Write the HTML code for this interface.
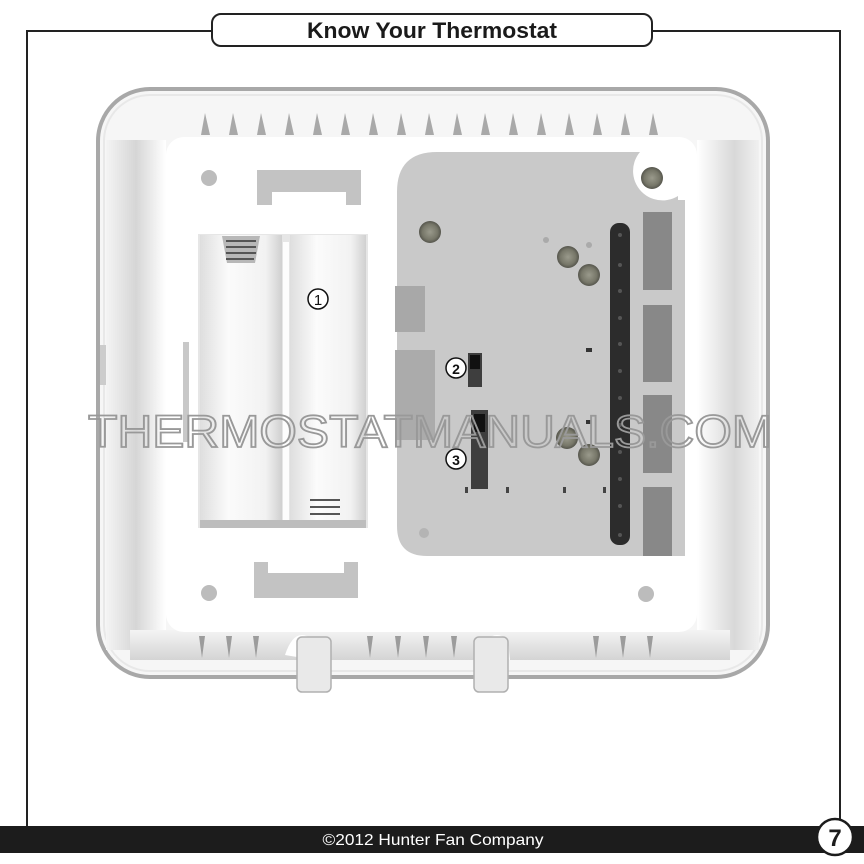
<!DOCTYPE html>
<html><head><meta charset="utf-8"><style>
html,body{margin:0;padding:0;background:#fff;}
svg{display:block;}
</style></head><body>
<svg width="864" height="864" viewBox="0 0 864 864" xmlns="http://www.w3.org/2000/svg">
<defs>
<linearGradient id="shl" x1="0" x2="1"><stop offset="0" stop-color="#f4f4f4"/><stop offset="0.5" stop-color="#d6d6d6"/><stop offset="1" stop-color="#fff"/></linearGradient>
<linearGradient id="shr" x1="0" x2="1"><stop offset="0" stop-color="#fff"/><stop offset="0.6" stop-color="#d8d8d8"/><stop offset="1" stop-color="#f0f0f0"/></linearGradient>
<linearGradient id="shb" x1="0" y1="0" x2="0" y2="1"><stop offset="0" stop-color="#f4f4f4"/><stop offset="1" stop-color="#d4d4d4"/></linearGradient>
<linearGradient id="cyl" x1="0" x2="1"><stop offset="0" stop-color="#dedede"/><stop offset="0.35" stop-color="#fbfbfb"/><stop offset="0.8" stop-color="#f2f2f2"/><stop offset="1" stop-color="#d0d0d0"/></linearGradient>
<radialGradient id="scr"><stop offset="0" stop-color="#9a9a8c"/><stop offset="0.7" stop-color="#777769"/><stop offset="1" stop-color="#55554c"/></radialGradient>
</defs>
<path d="M212 31 H27 V826 M652 31 H840 V820" fill="none" stroke="#222" stroke-width="2"/>
<rect x="212" y="14" width="440" height="32" rx="9" fill="#fff" stroke="#222" stroke-width="2"/>
<text x="432" y="38" text-anchor="middle" font-family="Liberation Sans, sans-serif" font-weight="bold" font-size="22" fill="#1a1a1a" textLength="250" lengthAdjust="spacingAndGlyphs">Know Your Thermostat</text>

<rect x="98" y="89" width="670" height="588" rx="52" fill="#f6f6f6" stroke="#a8a8a8" stroke-width="4"/>
<rect x="104" y="95" width="658" height="576" rx="46" fill="none" stroke="#e8e8e8" stroke-width="2"/>
<rect x="106" y="140" width="60" height="510" fill="url(#shl)"/>
<rect x="697" y="140" width="62" height="510" fill="url(#shr)"/>
<rect x="130" y="630" width="600" height="30" fill="url(#shb)"/>
<g fill="#a9a9a9">
<path d="M201 135 l4 -22 l5 22z"/><path d="M229 135 l4 -22 l5 22z"/><path d="M257 135 l4 -22 l5 22z"/><path d="M285 135 l4 -22 l5 22z"/><path d="M313 135 l4 -22 l5 22z"/><path d="M341 135 l4 -22 l5 22z"/><path d="M369 135 l4 -22 l5 22z"/><path d="M397 135 l4 -22 l5 22z"/><path d="M425 135 l4 -22 l5 22z"/><path d="M453 135 l4 -22 l5 22z"/><path d="M481 135 l4 -22 l5 22z"/><path d="M509 135 l4 -22 l5 22z"/><path d="M537 135 l4 -22 l5 22z"/><path d="M565 135 l4 -22 l5 22z"/><path d="M593 135 l4 -22 l5 22z"/><path d="M621 135 l4 -22 l5 22z"/><path d="M649 135 l4 -22 l5 22z"/>
</g>
<g fill="#9c9c9c">
<path d="M199 636 h6 l-3 22z"/><path d="M226 636 h6 l-3 22z"/><path d="M253 636 h6 l-3 22z"/><path d="M367 636 h6 l-3 22z"/><path d="M395 636 h6 l-3 22z"/><path d="M423 636 h6 l-3 22z"/><path d="M451 636 h6 l-3 22z"/><path d="M593 636 h6 l-3 22z"/><path d="M620 636 h6 l-3 22z"/><path d="M647 636 h6 l-3 22z"/>
</g>
<path d="M285 655 q10 -30 28 -15 l2 20z M480 655 q10 -30 28 -15 l2 20z" fill="#fff"/>
<rect x="297" y="637" width="34" height="55" rx="5" fill="#e9e9e9" stroke="#b0b0b0" stroke-width="1.5"/>
<rect x="474" y="637" width="34" height="55" rx="5" fill="#e9e9e9" stroke="#b0b0b0" stroke-width="1.5"/>
<rect x="100" y="345" width="6" height="40" fill="#ccc"/>

<rect x="166" y="137" width="531" height="495" rx="18" fill="#fff"/>
<circle cx="209" cy="178" r="8" fill="#bcbcbc"/>
<circle cx="209" cy="593" r="8" fill="#bcbcbc"/>
<circle cx="646" cy="594" r="8" fill="#bcbcbc"/>
<rect x="257" y="170" width="104" height="35" fill="#c3c3c3"/><rect x="272" y="192" width="74" height="20" fill="#fff"/>
<rect x="254" y="562" width="104" height="36" fill="#c3c3c3"/><rect x="268" y="560" width="76" height="13" fill="#fff"/>
<rect x="183" y="342" width="6" height="100" fill="#c8c8c8"/>

<rect x="198" y="234" width="170" height="294" fill="#e6e6e6"/>
<rect x="200" y="235" width="82" height="287" fill="url(#cyl)"/>
<rect x="290" y="235" width="76" height="287" fill="url(#cyl)"/>
<rect x="283" y="242" width="6" height="280" fill="#fdfdfd"/>
<path d="M222 236 h38 l-5 27 h-28z" fill="#b8b8b8"/>
<path d="M226 241 h30 M226 247 h30 M226 253 h30 M226 259 h28" stroke="#555" stroke-width="2"/>
<path d="M310 500 h30 M310 507 h30 M310 514 h30 M310 521 h30" stroke="#555" stroke-width="2"/>
<rect x="200" y="520" width="166" height="8" fill="#bdbdbd"/>
<circle cx="318" cy="299" r="10" fill="#fff" stroke="#111" stroke-width="1.5"/>
<text x="318" y="305" text-anchor="middle" font-family="Liberation Sans, sans-serif" font-size="15" fill="#111">1</text>

<path d="M437 152 H678 V200 H685 V556 H427 Q397 556 397 526 V192 Q397 152 437 152Z" fill="#c9c9c9"/>
<path d="M630 152 H640 A28 28 0 0 0 685 190 V152Z" fill="#fff"/>
<circle cx="652" cy="178" r="11" fill="url(#scr)"/>
<rect x="395" y="286" width="30" height="46" fill="#a8a8a8"/>
<rect x="395" y="350" width="40" height="90" fill="#ababab"/>
<rect x="643" y="212" width="29" height="78" fill="#888"/>
<rect x="643" y="305" width="29" height="77" fill="#888"/>
<rect x="643" y="395" width="29" height="78" fill="#888"/>
<rect x="643" y="487" width="29" height="69" fill="#888"/>
<rect x="610" y="223" width="20" height="322" rx="9" fill="#2c2c2c"/>
<g fill="#555"><circle cx="620" cy="235" r="2"/><circle cx="620" cy="265" r="2"/><circle cx="620" cy="291" r="2"/><circle cx="620" cy="318" r="2"/><circle cx="620" cy="344" r="2"/><circle cx="620" cy="371" r="2"/><circle cx="620" cy="398" r="2"/><circle cx="620" cy="425" r="2"/><circle cx="620" cy="452" r="2"/><circle cx="620" cy="479" r="2"/><circle cx="620" cy="506" r="2"/><circle cx="620" cy="535" r="2"/></g>
<circle cx="430" cy="232" r="11" fill="url(#scr)"/>
<circle cx="568" cy="257" r="11" fill="url(#scr)"/>
<circle cx="589" cy="275" r="11" fill="url(#scr)"/>
<circle cx="567" cy="438" r="11" fill="url(#scr)"/>
<circle cx="589" cy="455" r="11" fill="url(#scr)"/>
<circle cx="546" cy="240" r="3" fill="#aaa"/><circle cx="589" cy="245" r="3" fill="#aaa"/>
<circle cx="424" cy="533" r="5" fill="#b4b4b4"/>
<rect x="586" y="348" width="6" height="4" fill="#333"/><rect x="586" y="420" width="6" height="4" fill="#333"/>
<g fill="#444"><rect x="465" y="487" width="3" height="6"/><rect x="506" y="487" width="3" height="6"/><rect x="563" y="487" width="3" height="6"/><rect x="603" y="487" width="3" height="6"/></g>
<rect x="468" y="353" width="14" height="34" fill="#3e3e3e"/><rect x="470" y="355" width="10" height="14" fill="#111"/>
<rect x="471" y="410" width="17" height="79" fill="#3e3e3e"/><rect x="474" y="414" width="11" height="18" fill="#111"/>
<circle cx="456" cy="368" r="10" fill="#fff" stroke="#111" stroke-width="1.5"/>
<text x="456" y="374" text-anchor="middle" font-family="Liberation Sans, sans-serif" font-weight="bold" font-size="14" fill="#111">2</text>
<circle cx="456" cy="459" r="10" fill="#fff" stroke="#111" stroke-width="1.5"/>
<text x="456" y="465" text-anchor="middle" font-family="Liberation Sans, sans-serif" font-weight="bold" font-size="14" fill="#111">3</text>

<text x="88" y="447" font-family="Liberation Sans, sans-serif" font-size="45" fill="none" stroke="#999" stroke-width="1.8" textLength="684" lengthAdjust="spacingAndGlyphs">THERMOSTATMANUALS.COM</text>

<rect x="0" y="826" width="864" height="27" fill="#1c1c1c"/>
<text x="433" y="845" text-anchor="middle" font-family="Liberation Sans, sans-serif" font-size="16" fill="#fff" textLength="221" lengthAdjust="spacingAndGlyphs">©2012 Hunter Fan Company</text>
<circle cx="835" cy="837" r="18" fill="#fff" stroke="#1c1c1c" stroke-width="2.5"/>
<text x="835" y="846" text-anchor="middle" font-family="Liberation Sans, sans-serif" font-weight="bold" font-size="24" fill="#1c1c1c">7</text>
</svg>
</body></html>
